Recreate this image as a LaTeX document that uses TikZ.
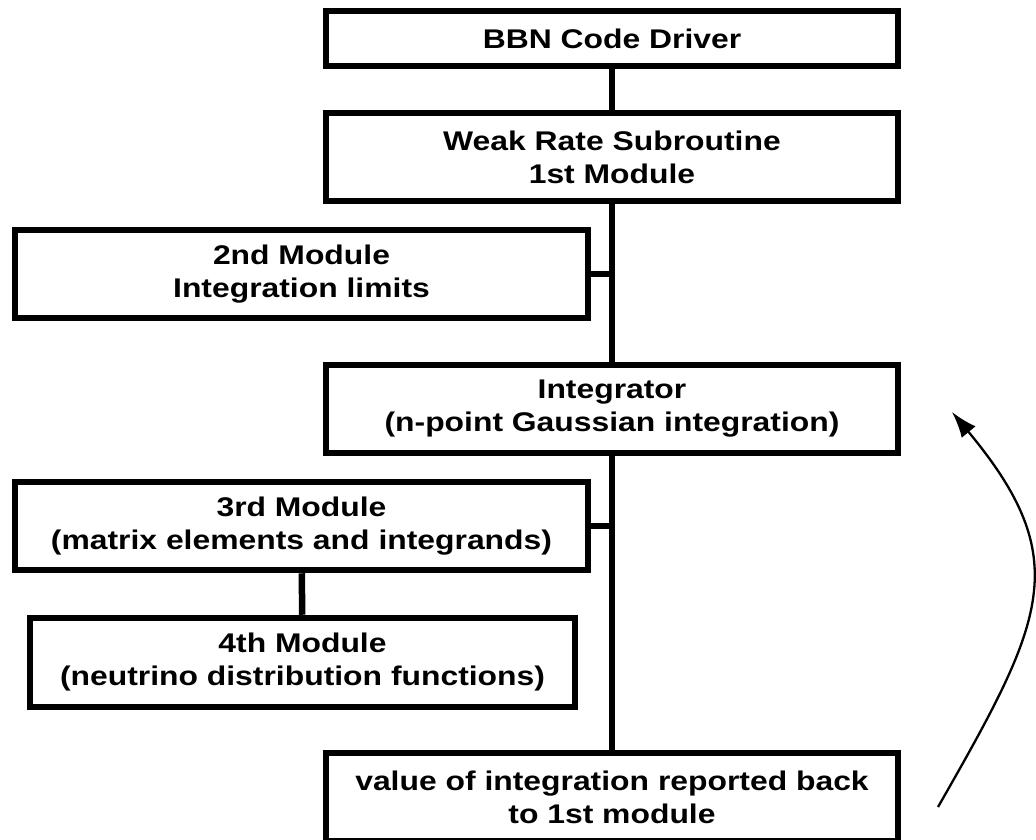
\documentclass[tikz,border=0pt]{standalone}
\usepackage{fontspec}
\setmainfont{Liberation Sans}[FakeStretch=1.18]
\usetikzlibrary{arrows.meta}
\begin{document}
\begin{tikzpicture}[x=1pt,y=-1pt,
  modbox/.style={draw,line width=6.5pt,align=center,inner sep=0pt,
    minimum width=572pt,minimum height=88pt,
    font=\fontsize{27}{33}\selectfont\bfseries},
  link/.style={line width=6.5pt},
  back/.style={line width=2.3pt,-{Latex[length=26pt,width=18pt]}}]
\fill[white] (0,0) rectangle (1036,840);
\useasboundingbox (0,0) rectangle (1036,840);
\node[modbox,minimum height=55pt] (bbn) at (612,38.5) {BBN Code Driver};
\node[modbox] (weak) at (612,157) {Weak Rate Subroutine\\1st Module};
\node[modbox,minimum width=573pt] (second) at (301.5,274) {2nd Module\\Integration limits};
\node[modbox] (integ) at (612,409) {Integrator\\(n-point Gaussian integration)};
\node[modbox,minimum width=573pt] (third) at (301.5,526) {3rd Module\\(matrix elements and integrands)};
\node[modbox,minimum width=545pt,minimum height=89pt] (fourth) at (302.5,662.5) {4th Module\\(neutrino distribution functions)};
\node[modbox] (report) at (612,797) {value of integration reported back\\to 1st module};
\draw[link] (bbn) -- (weak) -- (integ) -- (report);
\draw[link] (second) -- (second -| integ);
\draw[link] (third) -- (third -| integ);
\draw[link] (third) -- (fourth);
\coordinate (tail) at (938,807);
\coordinate (head) at (952,412);
\draw[back] (tail) .. controls (1045,620) and (1075,560) .. (head);
\end{tikzpicture}
\end{document}
